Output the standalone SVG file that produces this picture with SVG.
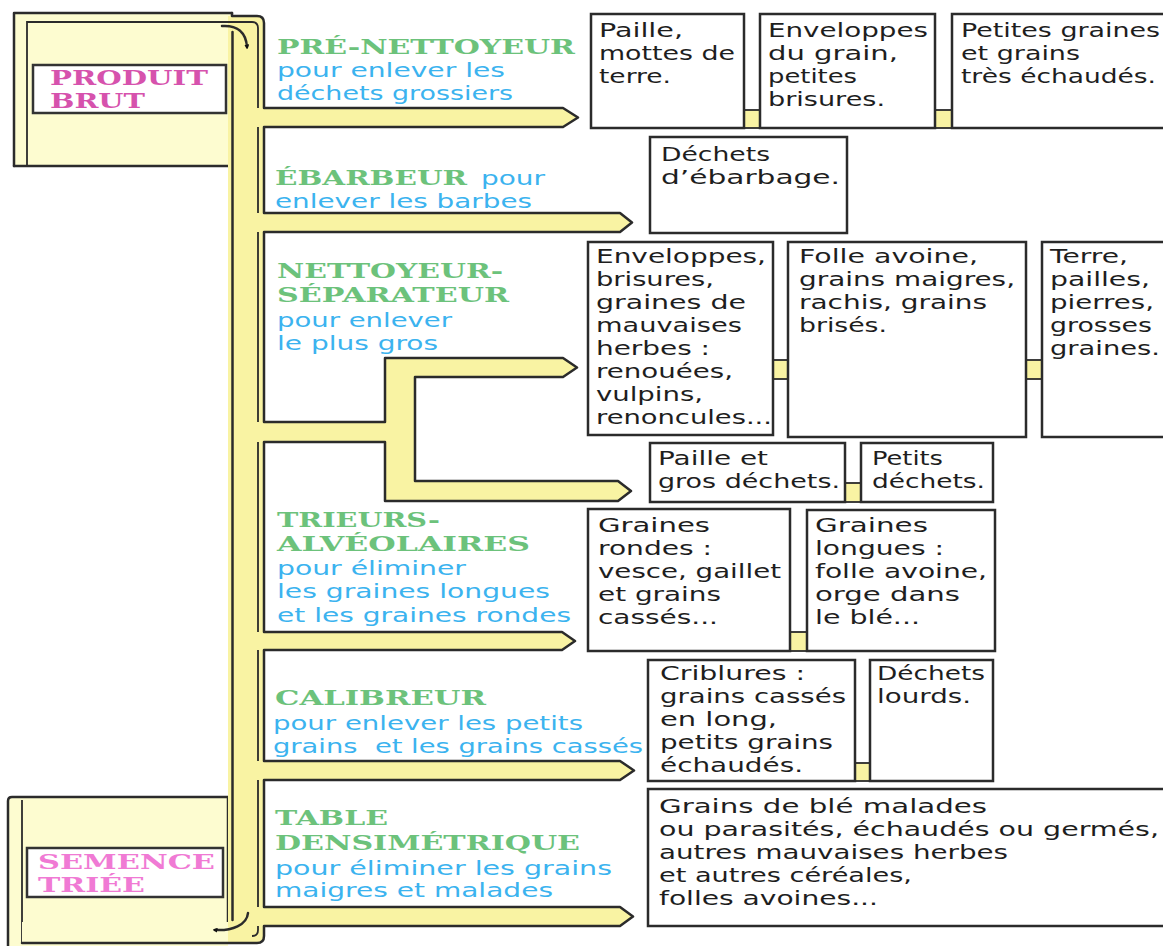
<svg xmlns="http://www.w3.org/2000/svg" width="1163" height="946" viewBox="0 0 1163 946">
<style>
.g{font-family:"DejaVu Serif",serif;font-weight:bold;font-size:20px;fill:#6cc27b}
.b{font-family:"DejaVu Sans",sans-serif;font-size:20px;fill:#3bb3ef}
.k{font-family:"DejaVu Sans",sans-serif;font-size:20px;fill:#1e1e1e}
.p{font-family:"DejaVu Serif",serif;font-weight:bold;font-size:19.5px;fill:#d652ad}
.p2{fill:#f07ad4}
.box{fill:#ffffff;stroke:#2b2b2b;stroke-width:2.5}
.lab{fill:#ffffff;stroke:#333;stroke-width:2.5}
.ln{fill:none;stroke:#2b2b2b;stroke-width:2.5;stroke-linecap:round;stroke-linejoin:round}
.thin{fill:none;stroke:#2b2b2b;stroke-width:1.8}
.yel{fill:#f9f3a3}
.pan{fill:#fdfcd0}
.cn{fill:#f9f3a3;stroke:#2b2b2b;stroke-width:1.8}
</style>
<defs>
<marker id="ah" viewBox="0 0 10 10" refX="5" refY="5" markerWidth="5" markerHeight="5" orient="auto" markerUnits="userSpaceOnUse">
<path d="M0,0 L10,5 L0,10 Z" fill="#111"/>
</marker>
</defs>
<rect width="1163" height="946" fill="#ffffff"/>

<g id="semence-triee">
<path class="pan" d="M8,946 V801 Q8,797 12,797 H228 V946 Z"/>
<path class="ln" d="M8,946 V801 Q8,797 12,797 H228 V922"/>
<path class="thin" d="M22,800 V943"/>
<rect class="lab" x="27" y="848" width="196" height="49"/>
<text class="p p2" x="38" y="869" textLength="177" lengthAdjust="spacingAndGlyphs">SEMENCE</text>
<text class="p p2" x="38" y="892" textLength="107" lengthAdjust="spacingAndGlyphs">TRIÉE</text>
</g>

<g id="produit-brut">
<rect class="pan" x="14" y="13" width="218" height="153"/>
<path class="ln" d="M14,166 V13 H232"/>
<path class="ln" d="M14,166 H232"/>
<rect class="lab" x="33" y="65" width="193" height="48"/>
<text class="p" x="50" y="85" textLength="158" lengthAdjust="spacingAndGlyphs">PRODUIT</text>
<text class="p" x="50" y="108" textLength="95" lengthAdjust="spacingAndGlyphs">BRUT</text>
</g>

<g id="connectors">
<path class="yel" d="M228,16 H257 Q264,16 264,23 V108 H563 L578,117.5 L563,127 H264 V213 H620 L632,222.5 L620,232 H264 V422 H385 V358 H563 L577,367.5 L563,377 H415 V481 H618 L631,491 L618,501 H385 V442 H264 V632 H562 L575,641 L562,650 H264 V761 H620 L634,770.5 L620,780 H264 V907 H620 L633,916.5 L620,926 H264 V936 Q264,943 257,943 H228 Z"/>
<path class="pan" d="M22,922 H228 V943 H22 Z"/>
<path class="ln" d="M232,13 V16 H257 Q264,16 264,23 V108 H563 L578,117.5 L563,127 H264 V213 H620 L632,222.5 L620,232 H264 V422 H385 V358 H563 L577,367.5 L563,377 H415 V481 H618 L631,491 L618,501 H385 V442 H264 V632 H562 L575,641 L562,650 H264 V761 H620 L634,770.5 L620,780 H264 V907 H620 L633,916.5 L620,926 H264 V936 Q264,943 257,943 H22"/>
<path class="thin" d="M27,166 V22 H252 Q258,22 258,28 V108 M258,127 V213 M258,232 V422 M258,442 V632 M258,650 V761 M258,780 V907 M258,926 V930 Q258,936 252,936"/>
<path class="ln" d="M232.5,32 V920"/>
<path class="ln" d="M222,26 C237,25 246,32 247,47" marker-end="url(#ah)"/>
<path class="ln" d="M248,913 C247,925 232,931 215,930" marker-end="url(#ah)"/>
<rect class="cn" x="744" y="110" width="16" height="18"/>
<rect class="cn" x="935" y="110" width="17" height="18"/>
<rect class="cn" x="773" y="360" width="15" height="19"/>
<rect class="cn" x="1026" y="360" width="16" height="19"/>
<rect class="cn" x="845" y="483" width="16" height="19"/>
<rect class="cn" x="790" y="632" width="17" height="19"/>
<rect class="cn" x="855" y="763" width="15" height="18"/>
</g>

<g id="pre-nettoyeur">
<text class="g" x="277" y="54" textLength="298" lengthAdjust="spacingAndGlyphs">PRÉ-NETTOYEUR</text>
<text class="b" x="277" y="77" textLength="228" lengthAdjust="spacingAndGlyphs">pour enlever les</text>
<text class="b" x="277" y="100" textLength="236" lengthAdjust="spacingAndGlyphs">déchets grossiers</text>
</g>
<g id="ebarbeur">
<text class="g" x="275" y="185" textLength="192" lengthAdjust="spacingAndGlyphs">ÉBARBEUR</text>
<text class="b" x="481" y="185" textLength="64" lengthAdjust="spacingAndGlyphs">pour</text>
<text class="b" x="275" y="208" textLength="257" lengthAdjust="spacingAndGlyphs">enlever les barbes</text>
</g>
<g id="nettoyeur-separateur">
<text class="g" x="277" y="278" textLength="226" lengthAdjust="spacingAndGlyphs">NETTOYEUR-</text>
<text class="g" x="277" y="302" textLength="232" lengthAdjust="spacingAndGlyphs">SÉPARATEUR</text>
<text class="b" x="277" y="327" textLength="175" lengthAdjust="spacingAndGlyphs">pour enlever</text>
<text class="b" x="277" y="350" textLength="161" lengthAdjust="spacingAndGlyphs">le plus gros</text>
</g>
<g id="trieurs-alveolaires">
<text class="g" x="277" y="527" textLength="163" lengthAdjust="spacingAndGlyphs">TRIEURS-</text>
<text class="g" x="277" y="551" textLength="253" lengthAdjust="spacingAndGlyphs">ALVÉOLAIRES</text>
<text class="b" x="277" y="575" textLength="189" lengthAdjust="spacingAndGlyphs">pour éliminer</text>
<text class="b" x="277" y="598" textLength="273" lengthAdjust="spacingAndGlyphs">les graines longues</text>
<text class="b" x="277" y="622" textLength="294" lengthAdjust="spacingAndGlyphs">et les graines rondes</text>
</g>
<g id="calibreur">
<text class="g" x="275" y="705" textLength="211" lengthAdjust="spacingAndGlyphs">CALIBREUR</text>
<text class="b" x="273" y="730" textLength="310" lengthAdjust="spacingAndGlyphs">pour enlever les petits</text>
<text class="b" x="273" y="753" textLength="370" lengthAdjust="spacingAndGlyphs" xml:space="preserve">grains  et les grains cassés</text>
</g>
<g id="table-densimetrique">
<text class="g" x="275" y="825" textLength="113" lengthAdjust="spacingAndGlyphs">TABLE</text>
<text class="g" x="275" y="850" textLength="305" lengthAdjust="spacingAndGlyphs">DENSIMÉTRIQUE</text>
<text class="b" x="275" y="875" textLength="337" lengthAdjust="spacingAndGlyphs">pour éliminer les grains</text>
<text class="b" x="275" y="897" textLength="278" lengthAdjust="spacingAndGlyphs">maigres et malades</text>
</g>

<g id="box-paille">
<rect class="box" x="591" y="14" width="153" height="114"/>
<text class="k" x="599" y="37" textLength="84" lengthAdjust="spacingAndGlyphs">Paille,</text>
<text class="k" x="599" y="60" textLength="136" lengthAdjust="spacingAndGlyphs">mottes de</text>
<text class="k" x="599" y="83" textLength="72" lengthAdjust="spacingAndGlyphs">terre.</text>
</g>
<g id="box-enveloppes">
<rect class="box" x="760" y="14" width="175" height="114"/>
<text class="k" x="768" y="37" textLength="160" lengthAdjust="spacingAndGlyphs">Enveloppes</text>
<text class="k" x="768" y="60" textLength="130" lengthAdjust="spacingAndGlyphs">du grain,</text>
<text class="k" x="768" y="83" textLength="89" lengthAdjust="spacingAndGlyphs">petites</text>
<text class="k" x="768" y="106" textLength="117" lengthAdjust="spacingAndGlyphs">brisures.</text>
</g>
<g id="box-petites-graines">
<rect class="box" x="952" y="14" width="215" height="114"/>
<text class="k" x="961" y="37" textLength="199" lengthAdjust="spacingAndGlyphs">Petites graines</text>
<text class="k" x="961" y="60" textLength="119" lengthAdjust="spacingAndGlyphs">et grains</text>
<text class="k" x="961" y="83" textLength="195" lengthAdjust="spacingAndGlyphs">très échaudés.</text>
</g>
<g id="box-ebarbage">
<rect class="box" x="650" y="137" width="197" height="96"/>
<text class="k" x="661" y="161" textLength="109" lengthAdjust="spacingAndGlyphs">Déchets</text>
<text class="k" x="661" y="184" textLength="179" lengthAdjust="spacingAndGlyphs">d’ébarbage.</text>
</g>
<g id="box-enveloppes-brisures">
<rect class="box" x="588" y="242" width="185" height="193"/>
<text class="k" x="596" y="263" textLength="170" lengthAdjust="spacingAndGlyphs">Enveloppes,</text>
<text class="k" x="596" y="286" textLength="118" lengthAdjust="spacingAndGlyphs">brisures,</text>
<text class="k" x="596" y="309" textLength="150" lengthAdjust="spacingAndGlyphs">graines de</text>
<text class="k" x="596" y="332" textLength="146" lengthAdjust="spacingAndGlyphs">mauvaises</text>
<text class="k" x="596" y="355" textLength="114" lengthAdjust="spacingAndGlyphs">herbes :</text>
<text class="k" x="596" y="378" textLength="137" lengthAdjust="spacingAndGlyphs">renouées,</text>
<text class="k" x="596" y="401" textLength="107" lengthAdjust="spacingAndGlyphs">vulpins,</text>
<text class="k" x="596" y="424" textLength="176" lengthAdjust="spacingAndGlyphs">renoncules...</text>
</g>
<g id="box-folle-avoine">
<rect class="box" x="788" y="242" width="238" height="195"/>
<text class="k" x="799" y="263" textLength="179" lengthAdjust="spacingAndGlyphs">Folle avoine,</text>
<text class="k" x="799" y="286" textLength="216" lengthAdjust="spacingAndGlyphs">grains maigres,</text>
<text class="k" x="799" y="309" textLength="188" lengthAdjust="spacingAndGlyphs">rachis, grains</text>
<text class="k" x="799" y="332" textLength="88" lengthAdjust="spacingAndGlyphs">brisés.</text>
</g>
<g id="box-terre">
<rect class="box" x="1042" y="242" width="130" height="195"/>
<text class="k" x="1050" y="263" textLength="78" lengthAdjust="spacingAndGlyphs">Terre,</text>
<text class="k" x="1050" y="286" textLength="100" lengthAdjust="spacingAndGlyphs">pailles,</text>
<text class="k" x="1050" y="309" textLength="104" lengthAdjust="spacingAndGlyphs">pierres,</text>
<text class="k" x="1050" y="332" textLength="102" lengthAdjust="spacingAndGlyphs">grosses</text>
<text class="k" x="1050" y="355" textLength="110" lengthAdjust="spacingAndGlyphs">graines.</text>
</g>
<g id="box-gros-dechets">
<rect class="box" x="650" y="443" width="195" height="59"/>
<text class="k" x="658" y="465" textLength="110" lengthAdjust="spacingAndGlyphs">Paille et</text>
<text class="k" x="658" y="488" textLength="182" lengthAdjust="spacingAndGlyphs">gros déchets.</text>
</g>
<g id="box-petits-dechets">
<rect class="box" x="861" y="443" width="132" height="59"/>
<text class="k" x="872" y="465" textLength="71" lengthAdjust="spacingAndGlyphs">Petits</text>
<text class="k" x="872" y="488" textLength="113" lengthAdjust="spacingAndGlyphs">déchets.</text>
</g>
<g id="box-graines-rondes">
<rect class="box" x="588" y="509" width="202" height="142"/>
<text class="k" x="598" y="532" textLength="112" lengthAdjust="spacingAndGlyphs">Graines</text>
<text class="k" x="598" y="555" textLength="114" lengthAdjust="spacingAndGlyphs">rondes :</text>
<text class="k" x="598" y="578" textLength="183" lengthAdjust="spacingAndGlyphs">vesce, gaillet</text>
<text class="k" x="598" y="601" textLength="123" lengthAdjust="spacingAndGlyphs">et grains</text>
<text class="k" x="598" y="624" textLength="120" lengthAdjust="spacingAndGlyphs">cassés...</text>
</g>
<g id="box-graines-longues">
<rect class="box" x="807" y="510" width="188" height="141"/>
<text class="k" x="815" y="532" textLength="113" lengthAdjust="spacingAndGlyphs">Graines</text>
<text class="k" x="815" y="555" textLength="129" lengthAdjust="spacingAndGlyphs">longues :</text>
<text class="k" x="815" y="578" textLength="172" lengthAdjust="spacingAndGlyphs">folle avoine,</text>
<text class="k" x="815" y="601" textLength="145" lengthAdjust="spacingAndGlyphs">orge dans</text>
<text class="k" x="815" y="624" textLength="105" lengthAdjust="spacingAndGlyphs">le blé...</text>
</g>
<g id="box-criblures">
<rect class="box" x="648" y="660" width="207" height="121"/>
<text class="k" x="660" y="680" textLength="145" lengthAdjust="spacingAndGlyphs">Criblures :</text>
<text class="k" x="660" y="703" textLength="186" lengthAdjust="spacingAndGlyphs">grains cassés</text>
<text class="k" x="660" y="726" textLength="117" lengthAdjust="spacingAndGlyphs">en long,</text>
<text class="k" x="660" y="749" textLength="173" lengthAdjust="spacingAndGlyphs">petits grains</text>
<text class="k" x="660" y="772" textLength="143" lengthAdjust="spacingAndGlyphs">échaudés.</text>
</g>
<g id="box-dechets-lourds">
<rect class="box" x="870" y="660" width="123" height="121"/>
<text class="k" x="877" y="680" textLength="108" lengthAdjust="spacingAndGlyphs">Déchets</text>
<text class="k" x="877" y="703" textLength="94" lengthAdjust="spacingAndGlyphs">lourds.</text>
</g>
<g id="box-grains-malades">
<rect class="box" x="648" y="789" width="520" height="137"/>
<text class="k" x="659" y="813" textLength="328" lengthAdjust="spacingAndGlyphs">Grains de blé malades</text>
<text class="k" x="659" y="836" textLength="500" lengthAdjust="spacingAndGlyphs">ou parasités, échaudés ou germés,</text>
<text class="k" x="659" y="859" textLength="349" lengthAdjust="spacingAndGlyphs">autres mauvaises herbes</text>
<text class="k" x="659" y="882" textLength="253" lengthAdjust="spacingAndGlyphs">et autres céréales,</text>
<text class="k" x="659" y="905" textLength="219" lengthAdjust="spacingAndGlyphs">folles avoines...</text>
</g>
</svg>
